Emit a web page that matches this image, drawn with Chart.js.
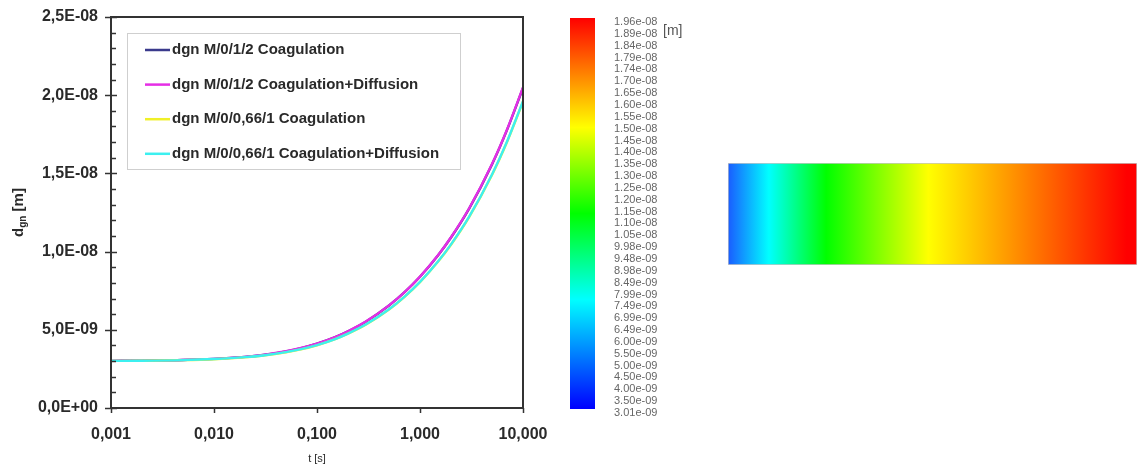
<!DOCTYPE html>
<html>
<head>
<meta charset="utf-8">
<title>dgn vs t</title>
<script src="https://cdn.jsdelivr.net/npm/chart.js@4.4.1/dist/chart.umd.min.js"></script>
<style>
    html, body { margin: 0; padding: 0; background: #fff; }
    body { width: 1137px; height: 469px; position: relative; overflow: hidden; }
    canvas { position: absolute; top: 0; }
    #mainChart { left: 0; }
    #scaleChart { left: 560px; }
    #fieldChart { left: 700px; }
</style>
</head>
<body>
<canvas id="mainChart" width="560" height="469"></canvas>
<canvas id="scaleChart" width="140" height="469"></canvas>
<canvas id="fieldChart" width="437" height="469"></canvas>
<script>
// ---- data (diameters in 1e-9 m) ----
const times = [0.001, 0.002, 0.005, 0.01, 0.02, 0.03, 0.05, 0.07, 0.1, 0.15, 0.2, 0.3, 0.5, 0.7, 1, 1.5, 2, 3, 5, 7, 10];

const dgnM012Coag     = [3.01, 3.03, 3.07, 3.14, 3.27, 3.39, 3.62, 3.83, 4.11, 4.53, 4.90, 5.53, 6.55, 7.37, 8.39, 9.77, 10.90, 12.75, 15.57, 17.78, 20.46];
const dgnM012CoagDiff = [3.01, 3.03, 3.07, 3.14, 3.27, 3.40, 3.63, 3.84, 4.12, 4.54, 4.91, 5.54, 6.56, 7.38, 8.40, 9.78, 10.92, 12.77, 15.60, 17.81, 20.50];
const dgnM066Coag     = [3.01, 3.02, 3.06, 3.12, 3.24, 3.35, 3.56, 3.75, 4.01, 4.40, 4.75, 5.34, 6.30, 7.08, 8.05, 9.36, 10.44, 12.21, 14.90, 17.01, 19.58];
const dgnM066CoagDiff = [3.01, 3.02, 3.06, 3.13, 3.25, 3.36, 3.57, 3.76, 4.02, 4.41, 4.76, 5.35, 6.31, 7.09, 8.06, 9.38, 10.46, 12.23, 14.93, 17.04, 19.62];

const seriesNames = [
    'dgn M/0/1/2 Coagulation',
    'dgn M/0/1/2 Coagulation+Diffusion',
    'dgn M/0/0,66/1 Coagulation',
    'dgn M/0/0,66/1 Coagulation+Diffusion'
];

const xTicks = [0.001, 0.01, 0.1, 1, 10];
const xTickLabels = ['0,001', '0,010', '0,100', '1,000', '10,000'];
const yTicks = [0, 5, 10, 15, 20, 25];
const yTickLabels = ['0,0E+00', '5,0E-09', '1,0E-08', '1,5E-08', '2,0E-08', '2,5E-08'];

// colour scale (contour legend), top to bottom
const scaleLabels = [
    '1.96e-08', '1.89e-08', '1.84e-08', '1.79e-08', '1.74e-08', '1.70e-08', '1.65e-08',
    '1.60e-08', '1.55e-08', '1.50e-08', '1.45e-08', '1.40e-08', '1.35e-08', '1.30e-08',
    '1.25e-08', '1.20e-08', '1.15e-08', '1.10e-08', '1.05e-08', '9.98e-09', '9.48e-09',
    '8.98e-09', '8.49e-09', '7.99e-09', '7.49e-09', '6.99e-09', '6.49e-09', '6.00e-09',
    '5.50e-09', '5.00e-09', '4.50e-09', '4.00e-09', '3.50e-09', '3.01e-09'
];
const scaleRange = [3.01, 19.6];
const fieldSpan = [0, 1];

// ---- styles ----
const FONT = "'Liberation Sans', Arial, sans-serif";
const TEXT = '#2a2a2a';
const lineColors = ['#3a3a8c', '#e52ee5', '#f0f028', '#3cf0f0'];
const rainbowStops = [[0, '#0000ff'], [0.28, '#00ffff'], [0.5, '#00ff00'], [0.72, '#ffff00'], [1, '#ff0000']];
const fieldStops = [[0, '#1a5cff'], [0.1, '#00ffff'], [0.24, '#00ff00'], [0.49, '#ffff00'], [0.975, '#ff0000'], [1, '#ff0000']];

Chart.defaults.font.family = FONT;
Chart.defaults.color = TEXT;

// frame + crossing major ticks + inner minor ticks
const frameTicks = {
    id: 'frameTicks',
    afterDatasetsDraw(chart) {
        const {ctx, chartArea: a, scales: {x, y}} = chart;
        ctx.save();
        ctx.strokeStyle = '#333';
        ctx.lineWidth = 1.5;
        for (let v = 1; v < 25; v++) {
            if (v % 5 === 0) continue;
            const py = Math.round(y.getPixelForValue(v)) + 0.5;
            ctx.beginPath(); ctx.moveTo(a.left, py); ctx.lineTo(a.left + 5, py); ctx.stroke();
        }
        y.ticks.forEach(t => {
            const py = Math.round(y.getPixelForValue(t.value)) + 0.5;
            ctx.beginPath(); ctx.moveTo(a.left - 6, py); ctx.lineTo(a.left + 6, py); ctx.stroke();
        });
        x.ticks.forEach(t => {
            const px = Math.round(x.getPixelForValue(t.value)) + 0.5;
            ctx.beginPath(); ctx.moveTo(px, a.bottom); ctx.lineTo(px, a.bottom + 5); ctx.stroke();
        });
        ctx.lineWidth = 2;
        ctx.strokeRect(a.left, a.top, a.right - a.left, a.bottom - a.top);

        // y title with subscript
        const cy = (a.top + a.bottom) / 2;
        ctx.translate(23, cy);
        ctx.rotate(-Math.PI / 2);
        ctx.fillStyle = TEXT;
        ctx.textBaseline = 'alphabetic';
        const big = 'bold 15px ' + FONT, small = 'bold 10px ' + FONT;
        ctx.font = big; const wd = ctx.measureText('d').width; const wm = ctx.measureText(' [m]').width;
        ctx.font = small; const wgn = ctx.measureText('gn').width;
        let x0 = -(wd + wgn + wm) / 2;
        ctx.font = big; ctx.fillText('d', x0, 0);
        ctx.font = small; ctx.fillText('gn', x0 + wd, 3);
        ctx.font = big; ctx.fillText(' [m]', x0 + wd + wgn, 0);
        ctx.restore();
    }
};

// boxed legend inside the plot
const boxLegend = {
    id: 'boxLegend',
    afterDatasetsDraw(chart) {
        const ctx = chart.ctx;
        ctx.save();
        ctx.fillStyle = '#fff';
        ctx.fillRect(127, 33, 333, 136);
        ctx.strokeStyle = '#cfcfcf';
        ctx.lineWidth = 1;
        ctx.strokeRect(127.5, 33.5, 333, 136);
        ctx.font = 'bold 15px ' + FONT;
        ctx.textBaseline = 'middle';
        chart.data.datasets.forEach((ds, i) => {
            const ry = 50 + i * 34.6;
            ctx.strokeStyle = ds.borderColor;
            ctx.lineWidth = 2.5;
            ctx.beginPath(); ctx.moveTo(145, ry); ctx.lineTo(170, ry); ctx.stroke();
            ctx.fillStyle = TEXT;
            ctx.fillText(ds.label, 172, ry);
        });
        ctx.restore();
    }
};

const seriesValues = [dgnM012Coag, dgnM012CoagDiff, dgnM066Coag, dgnM066CoagDiff];
const drawOrder = [4, 3, 2, 1];

new Chart(document.getElementById('mainChart'), {
    type: 'line',
    data: {
        datasets: seriesValues.map((vals, i) => ({
            label: seriesNames[i],
            data: times.map((t, k) => ({x: t, y: vals[k]})),
            borderColor: lineColors[i],
            backgroundColor: lineColors[i],
            borderWidth: 2.4,
            pointRadius: 0,
            cubicInterpolationMode: 'monotone',
            order: drawOrder[i]
        }))
    },
    options: {
        responsive: false,
        devicePixelRatio: 1,
        animation: false,
        layout: {padding: {top: 17, right: 37, left: 0, bottom: 0}},
        plugins: {legend: {display: false}, tooltip: {enabled: false}},
        scales: {
            x: {
                type: 'logarithmic',
                min: 0.001,
                max: 10,
                grid: {display: false},
                border: {display: false},
                afterBuildTicks: s => { s.ticks = xTicks.map(v => ({value: v})); },
                afterFit: s => { s.height = 61; },
                ticks: {
                    autoSkip: false,
                    maxRotation: 0,
                    padding: 9,
                    font: {size: 16, weight: 'bold'},
                    callback: (v, i) => xTickLabels[i]
                },
                title: {display: true, text: 't [s]', font: {size: 11}, padding: {top: 0, bottom: 3}}
            },
            y: {
                type: 'linear',
                min: 0,
                max: 25,
                grid: {display: false},
                border: {display: false},
                afterBuildTicks: s => { s.ticks = yTicks.map(v => ({value: v})); },
                afterFit: s => { s.width = 111; },
                ticks: {
                    autoSkip: false,
                    padding: 5,
                    font: {size: 16, weight: 'bold'},
                    callback: (v, i) => yTickLabels[i]
                }
            }
        }
    },
    plugins: [frameTicks, boxLegend]
});

function gradientFill(ctx, x0, y0, x1, y1, stops) {
    const g = ctx.createLinearGradient(x0, y0, x1, y1);
    stops.forEach(s => g.addColorStop(s[0], s[1]));
    return g;
}

// colour legend bar
const unitLabel = {
    id: 'unitLabel',
    afterDraw(chart) {
        const ctx = chart.ctx;
        ctx.save();
        ctx.font = '14px ' + FONT;
        ctx.fillStyle = '#555';
        ctx.textBaseline = 'middle';
        ctx.fillText('[m]', 103, 31);
        ctx.restore();
    }
};

new Chart(document.getElementById('scaleChart'), {
    type: 'bar',
    data: {
        labels: ['scale'],
        datasets: [{
            data: [scaleRange],
            barPercentage: 1,
            categoryPercentage: 1,
            borderWidth: 0,
            backgroundColor: c => {
                const {chart} = c;
                if (!chart.chartArea) return '#0f0';
                const y = chart.scales.y;
                return gradientFill(chart.ctx, 0, y.getPixelForValue(scaleRange[0]), 0, y.getPixelForValue(scaleRange[1]), rainbowStops);
            }
        }]
    },
    options: {
        responsive: false,
        devicePixelRatio: 1,
        animation: false,
        layout: {padding: {top: 18, bottom: 60, left: 10, right: 0}},
        plugins: {legend: {display: false}, tooltip: {enabled: false}},
        scales: {
            x: {display: false},
            y: {
                position: 'right',
                min: scaleRange[0],
                max: scaleRange[1],
                grid: {display: false},
                border: {display: false},
                afterBuildTicks: s => {
                    const n = scaleLabels.length;
                    s.ticks = scaleLabels.map((l, i) => ({value: scaleRange[1] - i * (scaleRange[1] - scaleRange[0]) / (n - 1)}));
                },
                afterFit: s => { s.width = 105; },
                ticks: {
                    autoSkip: false,
                    padding: 11,
                    labelOffset: 4,
                    color: '#666',
                    font: {size: 11, lineHeight: 1},
                    callback: (v, i) => scaleLabels[i]
                }
            }
        }
    },
    plugins: [unitLabel]
});

// contour strip
new Chart(document.getElementById('fieldChart'), {
    type: 'bar',
    data: {
        labels: ['field'],
        datasets: [{
            data: [fieldSpan],
            barPercentage: 1,
            categoryPercentage: 1,
            borderWidth: 1,
            borderColor: '#c4c4c4',
            borderSkipped: false,
            backgroundColor: c => {
                const {chart} = c;
                if (!chart.chartArea) return '#ff0';
                const x = chart.scales.x;
                return gradientFill(chart.ctx, x.getPixelForValue(fieldSpan[0]), 0, x.getPixelForValue(fieldSpan[1]), 0, fieldStops);
            }
        }]
    },
    options: {
        indexAxis: 'y',
        responsive: false,
        devicePixelRatio: 1,
        animation: false,
        layout: {padding: {top: 163, bottom: 204, left: 28, right: -1}},
        plugins: {legend: {display: false}, tooltip: {enabled: false}},
        scales: {
            x: {display: false, min: fieldSpan[0], max: fieldSpan[1]},
            y: {display: false}
        }
    }
});
</script>
</body>
</html>
